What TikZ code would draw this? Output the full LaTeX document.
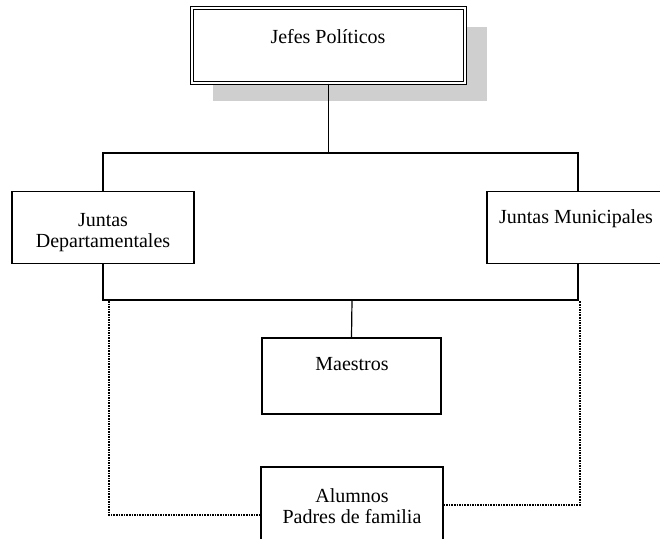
\documentclass[tikz,border=0pt]{standalone}
\usepackage{fontspec}
\setmainfont{Liberation Serif}
\usetikzlibrary{positioning}
\begin{document}
\begin{tikzpicture}[x=1pt, y=-1pt,
	box/.style={draw, fill=white, line width=1.2pt, inner sep=0pt, minimum width=182pt, minimum height=72pt},
	lbl/.style={font=\fontsize{20}{21}\selectfont, align=center, inner sep=0pt},
	link/.style={line width=1.2pt},
	dots/.style={line width=2pt, dash pattern=on 1.6pt off 1pt}]
				\useasboundingbox (0,0) rectangle (660,538);
				\fill[black!19] (213,27) rectangle (487,101);
				\node[box, minimum width=273pt, minimum height=75pt, double, double distance=2.2pt, line width=1pt] (jefes) at (328.5,45.5) {};
				\node[box] (dep) at (103,227.5) {};
				\node[box] (mun) at (578,227.5) {};
				\node[box, minimum width=179pt, minimum height=76pt] (mae) at (351.5,376) {};
				\node[box, minimum height=75pt] (alu) at (352,504.5) {};
				\node[lbl, anchor=base] (jefesT) at (328,43) {Jefes Políticos};
				\node[lbl] (depT) at (103,233) {Juntas\\Departamentales};
				\node[lbl, anchor=base] (munT) at (576,223) {Juntas Municipales};
				\node[lbl, anchor=base] (maeT) at (352,370) {Maestros};
				\node[lbl] (aluT) at (352,506) {Alumnos\\Padres de familia};
				\coordinate (high) at (328.5,153);
				\coordinate (low) at (352,300);
				\draw[link] (jefes.south) -- (high);
				\draw[link] (dep.north) |- (high) -| (mun.north);
				\draw[link] (dep.south) |- (low) -| (mun.south);
				\draw[link] (low) -- (mae.north);
				\coordinate (dl) at (108.5,301);
				\coordinate (dr) at (580,301);
				\draw[dots] (dl) |- ([yshift=-10pt]alu.west);
				\draw[dots] (alu.east) -| (dr);
			\end{tikzpicture}
\end{document}
